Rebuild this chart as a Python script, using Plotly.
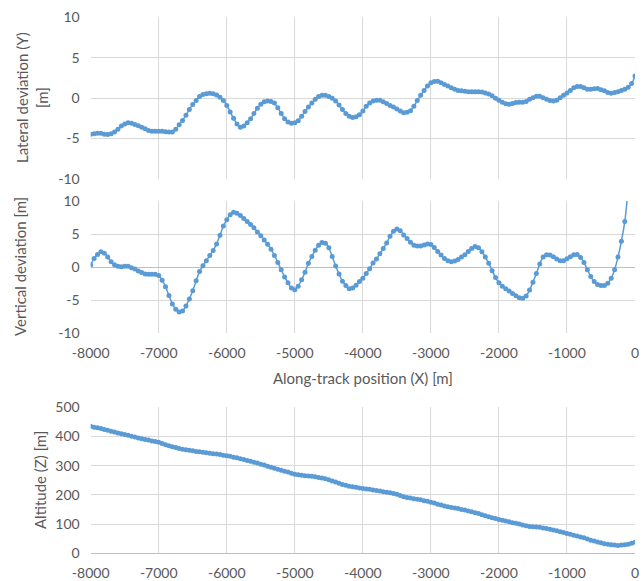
import plotly.graph_objects as go

# Along-track positions (m), one sample every 50 m
x_pos = list(range(-8000, 1, 50))

lateral_y = [
    -4.45, -4.4, -4.35, -4.35, -4.45, -4.5, -4.4, -4.2, -3.85, -3.45,   # -8000..-7550
    -3.2, -3.05, -3.1, -3.25, -3.4, -3.6, -3.8, -4.0, -4.1, -4.1,       # -7500..-7050
    -4.1, -4.1, -4.15, -4.2, -4.2, -3.85, -3.3, -2.75, -2.1, -1.4,      # -7000..-6550
    -0.8, -0.3, 0.2, 0.45, 0.55, 0.6, 0.55, 0.4, 0.1, -0.3,             # -6500..-6050
    -0.9, -1.7, -2.5, -3.2, -3.6, -3.45, -3.05, -2.55, -1.9, -1.25,     # -6000..-5550
    -0.75, -0.45, -0.35, -0.4, -0.6, -1.2, -1.9, -2.55, -2.95, -3.1,    # -5500..-5050
    -3.05, -2.8, -2.25, -1.65, -1.1, -0.6, -0.15, 0.2, 0.35, 0.35,      # -5000..-4550
    0.2, 0.0, -0.35, -0.85, -1.4, -1.9, -2.25, -2.4, -2.3, -2.05,       # -4500..-4050
    -1.6, -1.0, -0.6, -0.35, -0.25, -0.25, -0.45, -0.65, -0.9, -1.1,    # -4000..-3550
    -1.35, -1.6, -1.8, -1.75, -1.55, -1.0, -0.3, 0.35, 0.95, 1.5,       # -3500..-3050
    1.9, 2.05, 2.1, 1.9, 1.7, 1.5, 1.3, 1.1, 0.95, 0.9,                 # -3000..-2550
    0.85, 0.8, 0.8, 0.8, 0.8, 0.75, 0.65, 0.5, 0.3, 0.0,                # -2500..-2050
    -0.25, -0.5, -0.7, -0.75, -0.65, -0.55, -0.5, -0.5, -0.4, -0.15,    # -2000..-1550
    0.05, 0.25, 0.25, 0.05, -0.15, -0.3, -0.35, -0.25, 0.05, 0.35,      # -1500..-1050
    0.65, 0.95, 1.3, 1.45, 1.45, 1.3, 1.1, 1.1, 1.15, 1.2,              # -1000..-550
    1.05, 0.9, 0.7, 0.6, 0.7, 0.8, 0.95, 1.1, 1.35, 1.8,                # -500..-50
    2.75,                                                               # 0
]

vertical_z_dev = [
    0.3, 1.3, 1.9, 2.3, 2.1, 1.5, 0.8, 0.35, 0.1, 0.05,                 # -8000..-7550
    0.1, 0.1, -0.1, -0.3, -0.6, -0.85, -1.05, -1.1, -1.1, -1.1,         # -7500..-7050
    -1.3, -2.0, -3.0, -4.3, -5.6, -6.4, -6.8, -6.65, -5.9, -4.85,       # -7000..-6550
    -3.6, -2.1, -0.7, 0.2, 0.95, 1.75, 2.5, 3.5, 4.8, 6.2,              # -6500..-6050
    7.15, 7.9, 8.3, 8.15, 7.8, 7.35, 6.9, 6.45, 5.95, 5.3,              # -6000..-5550
    4.75, 4.1, 3.45, 2.7, 1.75, 0.7, -0.4, -1.5, -2.4, -3.2,            # -5500..-5050
    -3.45, -2.9, -1.95, -0.8, 0.55, 1.6, 2.55, 3.3, 3.7, 3.6,           # -5000..-4550
    2.9, 1.6, 0.15, -1.05, -2.15, -2.8, -3.3, -3.2, -2.75, -2.2,        # -4500..-4050
    -1.7, -1.0, -0.25, 0.6, 1.2, 2.0, 2.8, 3.65, 4.65, 5.4,             # -4000..-3550
    5.75, 5.5, 4.85, 4.3, 3.75, 3.3, 3.2, 3.2, 3.35, 3.5,               # -3500..-3050
    3.4, 2.95, 2.35, 1.8, 1.3, 0.95, 0.8, 0.9, 1.15, 1.5,               # -3000..-2550
    1.85, 2.35, 2.8, 3.1, 2.9, 2.3, 1.5, 0.55, -0.55, -1.6,             # -2500..-2050
    -2.4, -2.9, -3.3, -3.65, -4.0, -4.35, -4.65, -4.75, -4.4, -3.5,     # -2000..-1550
    -2.3, -1.0, 0.45, 1.5, 1.85, 1.8, 1.55, 1.2, 0.95, 0.95,            # -1500..-1050
    1.25, 1.55, 1.85, 1.9, 1.45, 0.7, -0.4, -1.45, -2.2, -2.65,         # -1000..-550
    -2.8, -2.8, -2.45, -1.7, -0.4, 1.5, 3.9, 6.9, 11.8, 18.0,           # -500..-50
    26.0,                                                               # 0
]

altitude_z = [
    435, 432, 430, 427, 424, 421, 418, 415, 412, 409,                   # -8000..-7550
    407, 404, 401, 398, 395, 392, 390, 388, 385, 383,                   # -7500..-7050
    380, 376, 372, 368, 365, 362, 359, 356, 355, 353,                   # -7000..-6550
    351, 349, 348, 346, 344, 343, 341, 340, 338, 336,                   # -6500..-6050
    334, 332, 329, 327, 324, 321, 318, 315, 312, 309,                   # -6000..-5550
    305, 302, 298, 295, 291, 288, 284, 281, 278, 274,                   # -5500..-5050
    271, 269, 267, 266, 265, 264, 262, 260, 258, 255,                   # -5000..-4550
    252, 248, 244, 240, 236, 233, 230, 228, 226, 224,                   # -4500..-4050
    222, 220, 219, 217, 215, 213, 211, 209, 207, 205,                   # -4000..-3550
    202, 198, 194, 191, 189, 187, 185, 183, 180, 178,                   # -3500..-3050
    175, 172, 168, 165, 162, 159, 157, 155, 153, 150,                   # -3000..-2550
    148, 145, 142, 139, 136, 132, 129, 125, 122, 119,                   # -2500..-2050
    116, 113, 111, 108, 105, 103, 100, 97, 94, 92,                      # -2000..-1550
    91, 90, 89, 87, 85, 82, 80, 77, 74, 71,                             # -1500..-1050
    68, 65, 62, 59, 56, 53, 49, 45, 42, 39,                             # -1000..-550
    36, 33, 31, 29, 28, 27, 28, 29, 31, 34,                             # -500..-50
    38,                                                                 # 0
]

x_ticks = [-8000, -7000, -6000, -5000, -4000, -3000, -2000, -1000, 0]
dev_ticks = [-10, -5, 0, 5, 10]
alt_ticks = [0, 100, 200, 300, 400, 500]

BLUE = "#5B9BD5"
GRID = "#D9D9D9"
AXIS = "#BFBFBF"
TXT = "#595959"
FONT = "Lato"

W, H = 642, 581
ML, MR = 0, 6
PW = W - ML - MR
x_dom = [90.7 / PW, 635.0 / PW]
def ydom(top_px, bot_px):
    return [1 - bot_px / H, 1 - top_px / H]

fig = go.Figure()

def add_series(yvals, xa, ya):
    fig.add_trace(go.Scatter(
        x=x_pos, y=yvals, xaxis=xa, yaxis=ya,
        mode="lines+markers",
        line=dict(color=BLUE, width=1.5, shape="spline", smoothing=0.8),
        marker=dict(color=BLUE, size=5),
        showlegend=False, hoverinfo="x+y",
    ))

add_series(lateral_y, "x", "y")
add_series(vertical_z_dev, "x2", "y2")
add_series(altitude_z, "x3", "y3")

xcommon = dict(range=[-8000, 0], tickvals=x_ticks, ticktext=[str(v) for v in x_ticks],
               showgrid=True, gridcolor=GRID, gridwidth=1, zeroline=False, showline=False,
               ticks="", tickfont=dict(family=FONT, size=14, color=TXT),
               ticklabelstandoff=10, domain=x_dom, automargin=False)
ycommon = dict(showgrid=True, gridcolor=GRID, gridwidth=1, ticks="",
               tickfont=dict(family=FONT, size=14, color=TXT), ticklabelstandoff=10,
               automargin=False)

fig.update_layout(
    template="none",
    width=W, height=H, autosize=False,
    margin=dict(l=ML, r=MR, t=0, b=0, pad=0),
    paper_bgcolor="white", plot_bgcolor="white",
    font=dict(family=FONT, color=TXT),
    xaxis=dict(**xcommon, anchor="y", showticklabels=False),
    yaxis=dict(**ycommon, range=[-10, 10], tickvals=dev_ticks,
               ticktext=[str(v) for v in dev_ticks], domain=ydom(17.3, 179),
               zeroline=True, zerolinecolor=GRID, zerolinewidth=1),
    xaxis2=dict(**xcommon, anchor="y2",
                title=dict(text="Along-track position (X) [m]",
                           font=dict(family=FONT, size=15, color=TXT), standoff=13)),
    yaxis2=dict(**ycommon, range=[-10, 10], tickvals=dev_ticks,
                ticktext=[str(v) for v in dev_ticks], domain=ydom(201, 333),
                zeroline=True, zerolinecolor=AXIS, zerolinewidth=1),
    xaxis3=dict(**xcommon, anchor="y3"),
    yaxis3=dict(**ycommon, range=[0, 500], tickvals=alt_ticks,
                ticktext=[str(v) for v in alt_ticks], domain=ydom(407.3, 553.3),
                zeroline=True, zerolinecolor=AXIS, zerolinewidth=1),
)

def ytitle(text, xpx, ymid_px):
    fig.add_annotation(text=text, x=xpx / PW, y=1 - ymid_px / H, xref="paper", yref="paper",
                       textangle=-90, showarrow=False, xanchor="center", yanchor="middle",
                       font=dict(family=FONT, size=15, color=TXT))

ytitle("Lateral deviation (Y)<br>[m]", 32, 98)
ytitle("Vertical deviation [m]", 20, 267)
ytitle("Altitude (Z) [m]", 40, 480)

fig.write_html("out.html", config={"displayModeBar": False},
               post_script="document.body.style.margin='0';")
